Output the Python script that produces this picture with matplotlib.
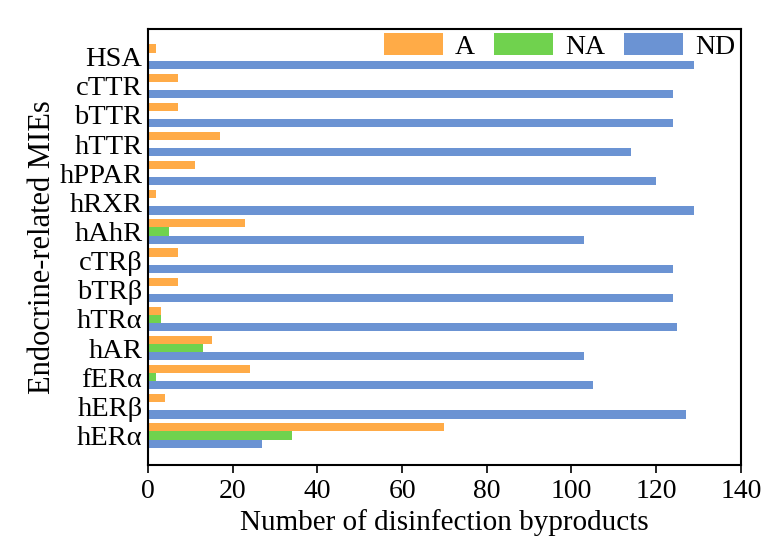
import numpy as np
import matplotlib.pyplot as plt
from matplotlib.ticker import MultipleLocator

plt.rcParams['font.family'] = ['Liberation Serif', 'DejaVu Serif']

# категории снизу вверх
categories = ["hERα", "hERβ", "fERα", "hAR", "hTRα", "bTRβ", "cTRβ",
              "hAhR", "hRXR", "hPPAR", "hTTR", "bTTR", "cTTR", "HSA"]
A_vals = [70, 4, 24, 15, 3, 7, 7, 23, 2, 11, 17, 7, 7, 2]
NA_vals = [34, 0, 2, 13, 3, 0, 0, 5, 0, 0, 0, 0, 0, 0]
ND_vals = [27, 127, 105, 103, 125, 124, 124, 103, 129, 120, 114, 124, 124, 129]

series = [("A", A_vals, "#FFAB47"), ("NA", NA_vals, "#70D24E"), ("ND", ND_vals, "#6B93D3")]

fig, ax = plt.subplots(figsize=(7.63, 5.46), dpi=100)
plt.subplots_adjust(left=0.194, right=0.971, top=0.947, bottom=0.149)

y = np.arange(len(categories))
h = 0.28
offsets = [h, 0, -h]
for (name, vals, col), off in zip(series, offsets):
    ax.barh(y + off, vals, height=h, color=col, label=name)

ax.set_xlim(0, 140)
ax.set_ylim(-1.0, 13.95)
ax.xaxis.set_major_locator(MultipleLocator(20))
ax.set_yticks(y)
ax.set_yticklabels(categories)
ax.tick_params(axis='x', direction='out', length=6, width=1.2, labelsize=20, pad=4)
ax.tick_params(axis='y', length=0, labelsize=20.5, pad=4)
for s in ax.spines.values():
    s.set_linewidth(1.5)

ax.set_xlabel("Number of disinfection byproducts", fontsize=21, labelpad=4)
ax.set_ylabel("Endocrine-related MIEs", fontsize=22, labelpad=2)

ax.legend(loc='upper right', ncol=3, frameon=False, fontsize=20,
          handlelength=2.12, handleheight=0.85, handletextpad=0.42,
          columnspacing=0.7, borderaxespad=0.15, bbox_to_anchor=(1.016, 1.025))

fig.savefig("out.png", dpi=100)
